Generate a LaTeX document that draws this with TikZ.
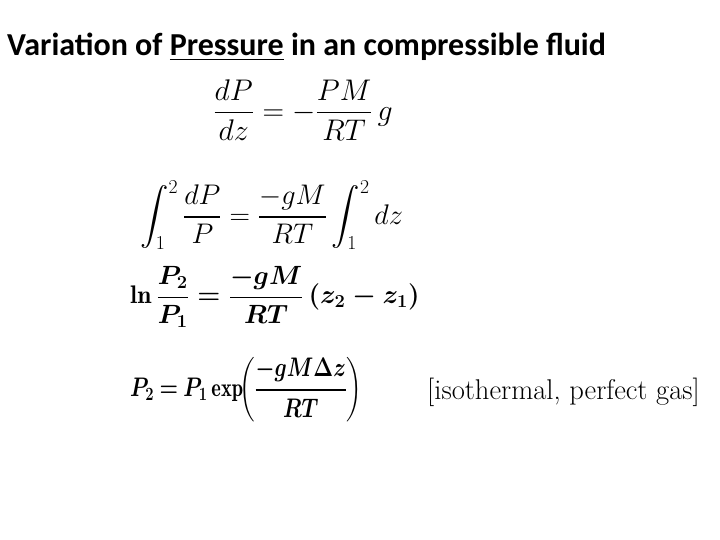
\documentclass[tikz,border=0pt]{standalone}
\usepackage{fontspec}
\usepackage{amsmath}
\newfontfamily\titlefont{Carlito}
\tikzset{eq/.style={anchor=west,inner sep=0pt,transform shape,font=\fontsize{24}{28}\selectfont},
beq/.style={eq,font=\fontsize{24}{28}\selectfont\boldmath\bfseries}}
\begin{document}
\begin{tikzpicture}[x=1pt,y=-1pt]
\useasboundingbox (0,0) rectangle (720,540);
\node[anchor=west,inner sep=0pt,font=\titlefont\bfseries\fontsize{32}{36}\selectfont] (title) at (7,47) {Variation of \underline{Pressure} in an compressible fluid};
\node[eq,scale=1.2] (e1) at (213,110) {$\dfrac{dP}{dz}=-\dfrac{PM}{RT}\,g$};
\node[eq,scale=1.14] (e2) at (140,215) {$\displaystyle\int_1^2\frac{dP}{P}=\frac{-gM}{RT}\int_1^2dz$};
\node[beq,scale=1.06] (e3) at (130,297) {$\ln\dfrac{P_2}{P_1}=\dfrac{-gM}{RT}\,(z_2-z_1)$};
\node[beq,xscale=0.85,yscale=1.08] (e4) at (130,390) {$P_2\mathbin{=}P_1\exp\!\biggl(\dfrac{-gM\Delta z}{RT}\biggr)$};
\node[eq,scale=1.19] (e5) at (427,392) {[isothermal, perfect gas]};
\end{tikzpicture}
\end{document}
